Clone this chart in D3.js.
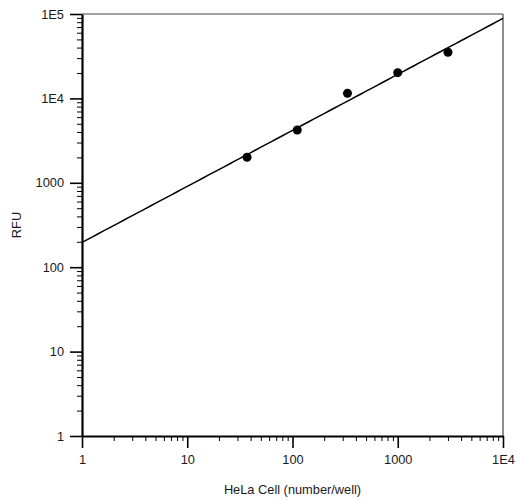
<!DOCTYPE html>
<html>
<head>
<meta charset="utf-8">
<script src="https://cdn.jsdelivr.net/npm/d3@7"></script>
<style>
  body { margin: 0; background: #fff; }
  svg { display: block; }
  text { font-family: Arial, "Liberation Sans", sans-serif; }
  .tick text { font-size: 12.8px; fill: #1a1a1a; }
  .axis-title { font-size: 12.8px; fill: #1a1a1a; }
</style>
</head>
<body>
<svg width="517" height="500"></svg>
<script>
// HeLa cells per well vs. fluorescence
let cellCounts = [37, 111, 333, 1000, 3000];
let rfuValues = [2005, 4225, 11490, 20170, 35170];

let xDomain = [1, 1e4];
let yDomain = [1, 1e5];
let xLabels = ["1", "10", "100", "1000", "1E4"];
let yLabels = ["1", "10", "100", "1000", "1E4", "1E5"];

function render() {
  let svg = d3.select("svg");

  let plot = { left: 82, right: 503, top: 14, bottom: 436 };

  let xScale = d3.scaleLog().domain(xDomain).range([plot.left, plot.right]);
  let yScale = d3.scaleLog().domain(yDomain).range([plot.bottom, plot.top]);

  // top and right frame
  svg.append("line")
    .attr("x1", plot.left).attr("x2", plot.right)
    .attr("y1", plot.top).attr("y2", plot.top)
    .attr("stroke", "#444").attr("stroke-width", 1.2);
  svg.append("line")
    .attr("x1", plot.right).attr("x2", plot.right)
    .attr("y1", plot.top).attr("y2", plot.bottom)
    .attr("stroke", "#444").attr("stroke-width", 1.2);

  let xTicks = logTicks(xDomain);
  let yTicks = logTicks(yDomain);

  let xAxis = d3.axisBottom(xScale)
    .tickValues(xTicks)
    .tickSizeOuter(0)
    .tickFormat(d => labelFor(d, xDomain, xLabels));
  let yAxis = d3.axisLeft(yScale)
    .tickValues(yTicks)
    .tickSizeOuter(0)
    .tickFormat(d => labelFor(d, yDomain, yLabels));

  svg.append("g")
    .attr("class", "x-axis")
    .attr("transform", `translate(0, ${plot.bottom})`)
    .call(customAxis(xAxis, "x"));
  svg.append("g")
    .attr("class", "y-axis")
    .attr("transform", `translate(${plot.left}, 0)`)
    .call(customAxis(yAxis, "y"));

  // log-log linear regression
  let lx = cellCounts.map(d => Math.log10(d));
  let ly = rfuValues.map(d => Math.log10(d));
  let mx = d3.mean(lx), my = d3.mean(ly);
  let slope = d3.sum(lx, (d, i) => (d - mx) * (ly[i] - my)) / d3.sum(lx, d => (d - mx) * (d - mx));
  let intercept = my - slope * mx;
  let fitX = d3.range(0, 4.01, 0.05).map(e => Math.pow(10, e));
  let line = d3.line()
    .x(d => xScale(d))
    .y(d => yScale(Math.pow(10, intercept + slope * Math.log10(d))));

  svg.append("path")
    .datum(fitX)
    .attr("d", line)
    .attr("fill", "none")
    .attr("stroke", "#000")
    .attr("stroke-width", 1.5);

  svg.selectAll(".dot")
    .data(cellCounts)
    .enter()
    .append("circle")
    .attr("class", "dot")
    .attr("cx", d => xScale(d))
    .attr("cy", (_, i) => yScale(rfuValues[i]))
    .attr("r", 4.5)
    .attr("fill", "#000");

  svg.append("text")
    .attr("class", "axis-title")
    .attr("transform", `translate(${(plot.left + plot.right) / 2}, 494)`)
    .attr("text-anchor", "middle")
    .text("HeLa Cell (number/well)");
  svg.append("text")
    .attr("class", "axis-title")
    .attr("transform", `translate(21, ${(plot.top + plot.bottom) / 2}) rotate(-90)`)
    .attr("text-anchor", "middle")
    .text("RFU");
}

function logTicks(domain) {
  let ticks = [];
  let lo = Math.round(Math.log10(domain[0]));
  let hi = Math.round(Math.log10(domain[1]));
  for (let e = lo; e <= hi; e += 1) {
    for (let m = 1; m <= 9; m += 1) {
      if (e === hi && m > 1) break;
      ticks.push(m * Math.pow(10, e));
    }
  }
  return ticks;
}

function isMajor(d) {
  let e = Math.log10(d);
  return Math.abs(e - Math.round(e)) < 1e-9;
}

function labelFor(d, domain, labels) {
  if (!isMajor(d)) return "";
  let idx = Math.round(Math.log10(d)) - Math.round(Math.log10(domain[0]));
  return labels[idx];
}

function customAxis(axis, dir) {
  return g => {
    g.call(axis);
    g.attr("font-family", null);
    g.select(".domain").attr("stroke", "#000").attr("stroke-width", 2.2);
    g.selectAll(".tick line")
      .attr("stroke", "#000")
      .attr("stroke-width", d => isMajor(d) ? 1.6 : 1)
      .attr(dir === "x" ? "y2" : "x2", d => {
        let len = isMajor(d) ? 12 : 5;
        return dir === "x" ? len : -len;
      });
    if (dir === "x") {
      g.selectAll(".tick text").attr("y", 19);
    } else {
      g.selectAll(".tick text").attr("x", -18);
    }
  };
}

render();
</script>
</body>
</html>
